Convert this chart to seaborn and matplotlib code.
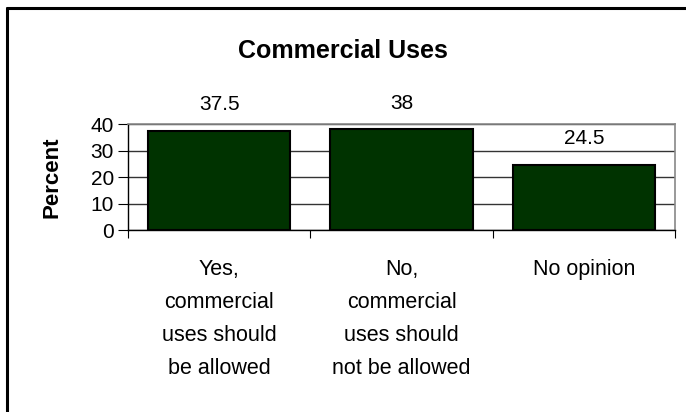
import matplotlib
matplotlib.use("Agg")
import matplotlib.pyplot as plt
from matplotlib.lines import Line2D
import seaborn as sns
import pandas as pd

categories = [
    "Yes,\ncommercial\nuses should\nbe allowed",
    "No,\ncommercial\nuses should\nnot be allowed",
    "No opinion",
]
percent = [37.5, 38, 24.5]
value_labels = ["37.5", "38", "24.5"]
y_ticks = [0, 10, 20, 30, 40]

sns.set_style("white")
plt.rcParams["font.family"] = ["Liberation Sans", "DejaVu Sans"]
plt.rcParams["text.color"] = "black"
plt.rcParams["axes.labelcolor"] = "black"
plt.rcParams["xtick.color"] = "black"
plt.rcParams["ytick.color"] = "black"

df = pd.DataFrame({"category": categories, "percent": percent})

fig = plt.figure(figsize=(6.86, 4.12), dpi=100)
ax = fig.add_axes([0.1866, 0.4417, 0.7974, 0.2573])

sns.barplot(data=df, x="category", y="percent", color="#003300",
            width=0.78, edgecolor="black", linewidth=1.5, saturation=1,
            ax=ax, zorder=3)

ax.set_ylim(0, 40)
ax.set_xlim(-0.5, 2.5)
ax.set_yticks(y_ticks)
ax.set_yticklabels([str(t) for t in y_ticks], fontsize=15)
ax.yaxis.grid(True, color="#333333", linewidth=1, zorder=0)
ax.set_axisbelow(True)

# x ticks sit at category boundaries, labels at the centres
ax.set_xticks([-0.5, 0.5, 1.5, 2.5])
ax.set_xticklabels([])
ax.set_xticks(range(len(categories)), minor=True)
ax.set_xticklabels(categories, minor=True, fontsize=15.5, linespacing=1.75,
                   va="top")
ax.tick_params(axis="x", which="minor", length=0, pad=21)
ax.tick_params(axis="x", which="major", direction="out", length=6,
               color="black", bottom=True)
ax.tick_params(axis="y", direction="out", length=7, color="black", left=True,
               pad=3)

ax.set_xlabel("")
ax.set_ylabel("Percent", fontsize=16, fontweight="bold", labelpad=20)

for side in ["left", "bottom"]:
    ax.spines[side].set_color("black")
    ax.spines[side].set_linewidth(1)
for side in ["top", "right"]:
    ax.spines[side].set_visible(True)
    ax.spines[side].set_color("#888888")
    ax.spines[side].set_linewidth(1.2)

for i, (v, lab) in enumerate(zip(percent, value_labels)):
    ax.annotate(lab, (i, v), xytext=(0, 12), textcoords="offset points",
                ha="center", va="bottom", fontsize=15, annotation_clip=False)

fig.text(0.5, 0.875, "Commercial Uses", ha="center", va="center",
         fontsize=18, fontweight="bold")

# chart frame: only top and left edges show
fig.add_artist(Line2D([7 / 686, 7 / 686], [0, 1 - 8 / 412], color="black",
                      linewidth=2.2, transform=fig.transFigure))
fig.add_artist(Line2D([7 / 686, 1], [1 - 8 / 412, 1 - 8 / 412], color="black",
                      linewidth=2.2, transform=fig.transFigure))

fig.savefig("out.png", dpi=100)
